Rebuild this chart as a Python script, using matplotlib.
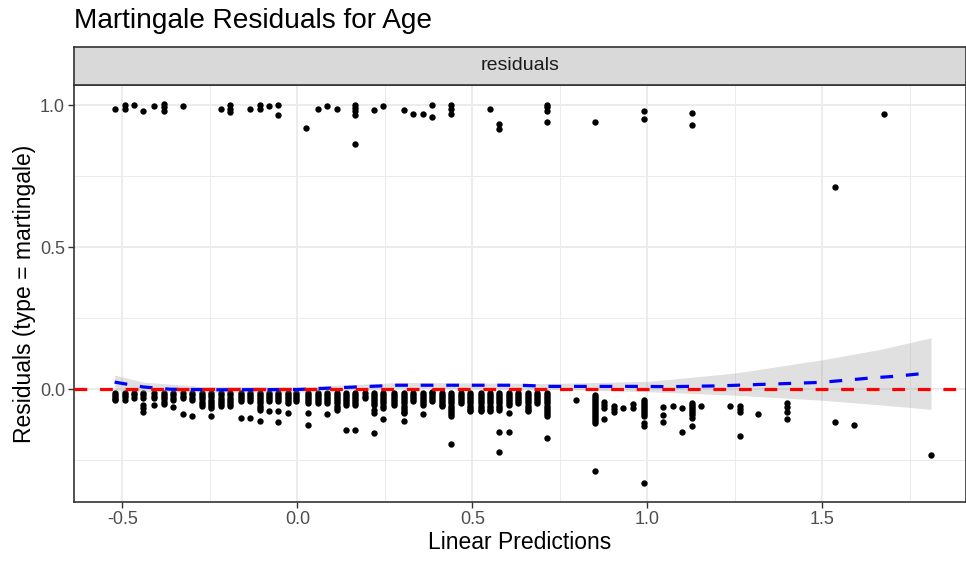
import matplotlib
matplotlib.use("Agg")
import matplotlib.pyplot as plt

plt.rcParams['font.family'] = ['Liberation Sans', 'DejaVu Sans']
plt.rcParams['axes.unicode_minus'] = False

# ---------------- data ----------------
# lower band: residuals of censored subjects, grouped by linear predictor value
low_x = [-0.522, -0.493, -0.467, -0.441, -0.410, -0.381, -0.354, -0.328, -0.300, -0.272,
         -0.246, -0.219, -0.193, -0.162, -0.136, -0.107, -0.082, -0.054, -0.028, -0.003,
         0.029, 0.058, 0.086, 0.112, 0.140, 0.166, 0.194, 0.220, 0.246, 0.277,
         0.306, 0.331, 0.360, 0.386, 0.414, 0.440, 0.468, 0.494, 0.526, 0.551,
         0.577, 0.605, 0.631, 0.660, 0.685, 0.714, 0.796, 0.851, 0.876, 0.905,
         0.931, 0.959, 0.991, 1.045, 1.073, 1.099, 1.127, 1.153, 1.236, 1.264,
         1.316, 1.398, 1.535, 1.590, 1.810]
low_y = [
    [-0.015, -0.021, -0.027, -0.033, -0.037],
    [-0.015, -0.022, -0.029, -0.037],
    [-0.015, -0.022, -0.031],
    [-0.015, -0.022, -0.031, -0.056, -0.067, -0.080],
    [-0.015, -0.023, -0.031, -0.056],
    [-0.015, -0.022, -0.029, -0.036, -0.044, -0.052],
    [-0.015, -0.022, -0.030, -0.037, -0.062],
    [-0.015, -0.023, -0.031, -0.088],
    [-0.015, -0.022, -0.030, -0.037, -0.093],
    [-0.015, -0.022, -0.029, -0.036, -0.045, -0.052, -0.060],
    [-0.015, -0.022, -0.029, -0.037, -0.045, -0.052, -0.059, -0.066, -0.093],
    [-0.015, -0.022, -0.030, -0.038, -0.045, -0.052, -0.060],
    [-0.015, -0.022, -0.030, -0.038, -0.045, -0.052, -0.060],
    [-0.015, -0.022, -0.029, -0.036, -0.042, -0.102],
    [-0.015, -0.022, -0.029, -0.036, -0.042, -0.102],
    [-0.015, -0.022, -0.029, -0.036, -0.043, -0.050, -0.058, -0.065, -0.072, -0.111],
    [-0.015, -0.022, -0.029, -0.036, -0.042, -0.077],
    [-0.015, -0.022, -0.029, -0.036, -0.042, -0.077, -0.117],
    [-0.015, -0.022, -0.029, -0.036, -0.042, -0.048, -0.085],
    [-0.015, -0.022, -0.029, -0.036, -0.042],
    [-0.015, -0.022, -0.029, -0.036, -0.042, -0.048, -0.083, -0.126],
    [-0.015, -0.022, -0.029, -0.036, -0.042, -0.048],
    [-0.015, -0.022, -0.029, -0.036, -0.042, -0.048, -0.088],
    [-0.015, -0.022, -0.029, -0.036, -0.043, -0.050, -0.058, -0.065, -0.072],
    [-0.015, -0.022, -0.029, -0.036, -0.043, -0.050, -0.054, -0.144],
    [-0.015, -0.022, -0.029, -0.036, -0.043, -0.050, -0.054, -0.144],
    [-0.015, -0.023, -0.031],
    [-0.015, -0.022, -0.029, -0.036, -0.043, -0.050, -0.054, -0.074, -0.085, -0.153],
    [-0.015, -0.022, -0.029, -0.036, -0.043, -0.050, -0.058, -0.066, -0.105],
    [-0.015, -0.022, -0.029, -0.036, -0.043, -0.050, -0.054],
    [-0.015, -0.022, -0.029, -0.036, -0.043, -0.050, -0.058, -0.065, -0.072, -0.079, -0.083, -0.111],
    [-0.015, -0.022, -0.029, -0.036, -0.042],
    [-0.015, -0.022, -0.029, -0.036, -0.043, -0.050, -0.054, -0.088],
    [-0.008, -0.015, -0.022, -0.029, -0.036, -0.042],
    [-0.015, -0.022, -0.029, -0.036, -0.043, -0.050, -0.056, -0.060],
    [-0.015, -0.022, -0.029, -0.036, -0.043, -0.050, -0.058, -0.065, -0.072, -0.079, -0.087, -0.095, -0.193],
    [-0.015, -0.022, -0.029, -0.036, -0.042, -0.048],
    [-0.015, -0.022, -0.029, -0.036, -0.043, -0.050, -0.058, -0.065, -0.072, -0.077],
    [-0.015, -0.022, -0.029, -0.036, -0.043, -0.050, -0.058, -0.065, -0.072, -0.077],
    [-0.015, -0.022, -0.029, -0.036, -0.043, -0.050, -0.058, -0.065, -0.072, -0.077],
    [-0.015, -0.022, -0.029, -0.036, -0.043, -0.050, -0.058, -0.065, -0.072, -0.150, -0.220],
    [-0.015, -0.022, -0.029, -0.036, -0.043, -0.050, -0.054, -0.085, -0.150],
    [-0.015, -0.022, -0.029, -0.036, -0.042, -0.048],
    [-0.015, -0.022, -0.029, -0.036, -0.043, -0.050, -0.058, -0.065, -0.072, -0.077],
    [-0.015, -0.022, -0.029, -0.036, -0.042, -0.048],
    [-0.015, -0.022, -0.029, -0.036, -0.043, -0.050, -0.058, -0.065, -0.072, -0.079, -0.087, -0.095, -0.171],
    [-0.039],
    [-0.021, -0.028, -0.035, -0.042, -0.050, -0.057, -0.064, -0.071, -0.078, -0.085, -0.092,
     -0.099, -0.106, -0.113, -0.120, -0.287],
    [-0.044, -0.056, -0.067, -0.105],
    [-0.060, -0.070, -0.080],
    [-0.065],
    [-0.053, -0.065],
    [-0.039, -0.046, -0.053, -0.060, -0.067, -0.074, -0.081, -0.088, -0.094, -0.120, -0.130, -0.330],
    [-0.063, -0.090, -0.115],
    [-0.060],
    [-0.065, -0.150],
    [-0.050, -0.057, -0.064, -0.071, -0.078, -0.085, -0.092, -0.100, -0.130],
    [-0.060],
    [-0.060],
    [-0.060, -0.070, -0.080, -0.165],
    [-0.088],
    [-0.050, -0.063, -0.080, -0.105],
    [-0.116],
    [-0.126],
    [-0.232],
]

# upper band: residuals of subjects with an event
top_x = [-0.522, -0.493, -0.467, -0.441, -0.410, -0.381, -0.328, -0.219, -0.193, -0.136,
         -0.107, -0.082, -0.054, 0.026, 0.058, 0.086, 0.112, 0.166, 0.220, 0.246,
         0.306, 0.331, 0.360, 0.386, 0.440, 0.551, 0.577, 0.714, 0.851, 0.991,
         1.127, 1.535, 1.676]
top_y = [
    [0.988], [1.000, 0.985], [1.002], [0.979], [0.996], [1.004, 0.993, 0.979], [0.996],
    [0.988], [1.000, 0.988, 0.976], [0.988], [1.002, 0.988], [0.996], [1.002, 0.965],
    [0.920], [0.988], [0.996], [0.988], [1.002, 0.991, 0.980, 0.967, 0.862], [0.982],
    [0.996], [0.982], [0.968], [0.968], [1.002, 0.958], [1.000, 0.985, 0.970], [0.985],
    [0.934, 0.915], [1.002, 0.993, 0.979, 0.940], [0.940], [0.980, 0.952], [0.973, 0.930],
    [0.712], [0.968],
]

# smoother (loess) and its confidence band
smooth_x = [-0.522, -0.440, -0.363, -0.220, -0.001, 0.131, 0.285, 0.637, 0.723, 0.894,
            0.988, 1.065, 1.208, 1.350, 1.493, 1.570, 1.641, 1.713, 1.784, 1.810]
smooth_y = [0.025, 0.008, 0.000, -0.002, -0.001, 0.006, 0.014, 0.014, 0.010, 0.010,
            0.010, 0.009, 0.012, 0.018, 0.024, 0.032, 0.040, 0.046, 0.055, 0.058]
band_x = [-0.522, -0.440, -0.276, 0.009, 0.294, 0.723, 1.008, 1.250, 1.501, 1.664, 1.810]
band_lo = [-0.005, -0.008, -0.010, -0.010, 0.004, 0.000, -0.009, -0.021, -0.039, -0.055, -0.071]
band_hi = [0.050, 0.025, 0.010, 0.008, 0.024, 0.020, 0.028, 0.057, 0.104, 0.140, 0.181]

x_ticks = [-0.5, 0.0, 0.5, 1.0, 1.5]
x_minor = [-0.25, 0.25, 0.75, 1.25, 1.75]
y_ticks = [0.0, 0.5, 1.0]
y_minor = [-0.25, 0.25, 0.75]

title = "Martingale Residuals for Age"
strip_label = "residuals"
x_label = "Linear Predictions"
y_label = "Residuals (type = martingale)"

# ---------------- figure ----------------
W, H = 966, 563
fig = plt.figure(figsize=(W / 100, H / 100), dpi=100)
fig.patch.set_facecolor("white")

px_l, px_r, px_t, px_b = 74, 966, 85, 502
ax = fig.add_axes([px_l / W, 1 - px_b / H, (px_r - px_l) / W, (px_b - px_t) / H])
ax.set_xlim(-0.638, 1.91)
ax.set_ylim(-0.397, 1.071)

grid_c = "#EBEBEB"
for v in x_ticks:
    ax.axvline(v, color=grid_c, lw=1.3, zorder=0)
for v in x_minor:
    ax.axvline(v, color=grid_c, lw=0.7, zorder=0)
for v in y_ticks:
    ax.axhline(v, color=grid_c, lw=1.3, zorder=0)
for v in y_minor:
    ax.axhline(v, color=grid_c, lw=0.7, zorder=0)

pts_x, pts_y = [], []
for xv, ys in zip(low_x, low_y):
    for yv in ys:
        pts_x.append(xv)
        pts_y.append(yv)
for xv, ys in zip(top_x, top_y):
    for yv in ys:
        pts_x.append(xv)
        pts_y.append(yv)
ax.scatter(pts_x, pts_y, s=21, color="black", linewidths=0, zorder=2)

ax.fill_between(band_x, band_lo, band_hi, color="#999999", alpha=0.3, linewidth=0, zorder=3)
ax.plot(smooth_x, smooth_y, color="#0000FF", lw=2.3, dashes=(4, 4), zorder=4)
ax.axhline(0.0, color="#FF0000", lw=2.3, dashes=(4, 4), zorder=5)

ax.set_xticks(x_ticks)
ax.set_xticklabels(["%.1f" % v for v in x_ticks])
ax.set_yticks(y_ticks)
ax.set_yticklabels(["%.1f" % v for v in y_ticks])
ax.tick_params(axis="both", colors="#333333", length=4, width=1.0, labelsize=13,
               labelcolor="#4D4D4D", pad=2.5)
for sp in ax.spines.values():
    sp.set_color("#333333")
    sp.set_linewidth(1.2)

ax.set_xlabel(x_label, fontsize=16.5, color="black", labelpad=2)
ax.set_ylabel(y_label, fontsize=16.5, color="black", labelpad=3)

# facet strip
strip_top = 47
sax = fig.add_axes([px_l / W, 1 - px_t / H, (px_r - px_l) / W, (px_t - strip_top) / H])
sax.set_facecolor("#D9D9D9")
sax.set_xticks([])
sax.set_yticks([])
for sp in sax.spines.values():
    sp.set_color("#333333")
    sp.set_linewidth(1.2)
sax.text(0.5, 0.5, strip_label, ha="center", va="center", fontsize=14, color="#1A1A1A",
         transform=sax.transAxes)

fig.text(px_l / W, 1 - 21 / H, title, ha="left", va="center", fontsize=20.2, color="black")

fig.savefig("out.png", dpi=100, facecolor="white")
